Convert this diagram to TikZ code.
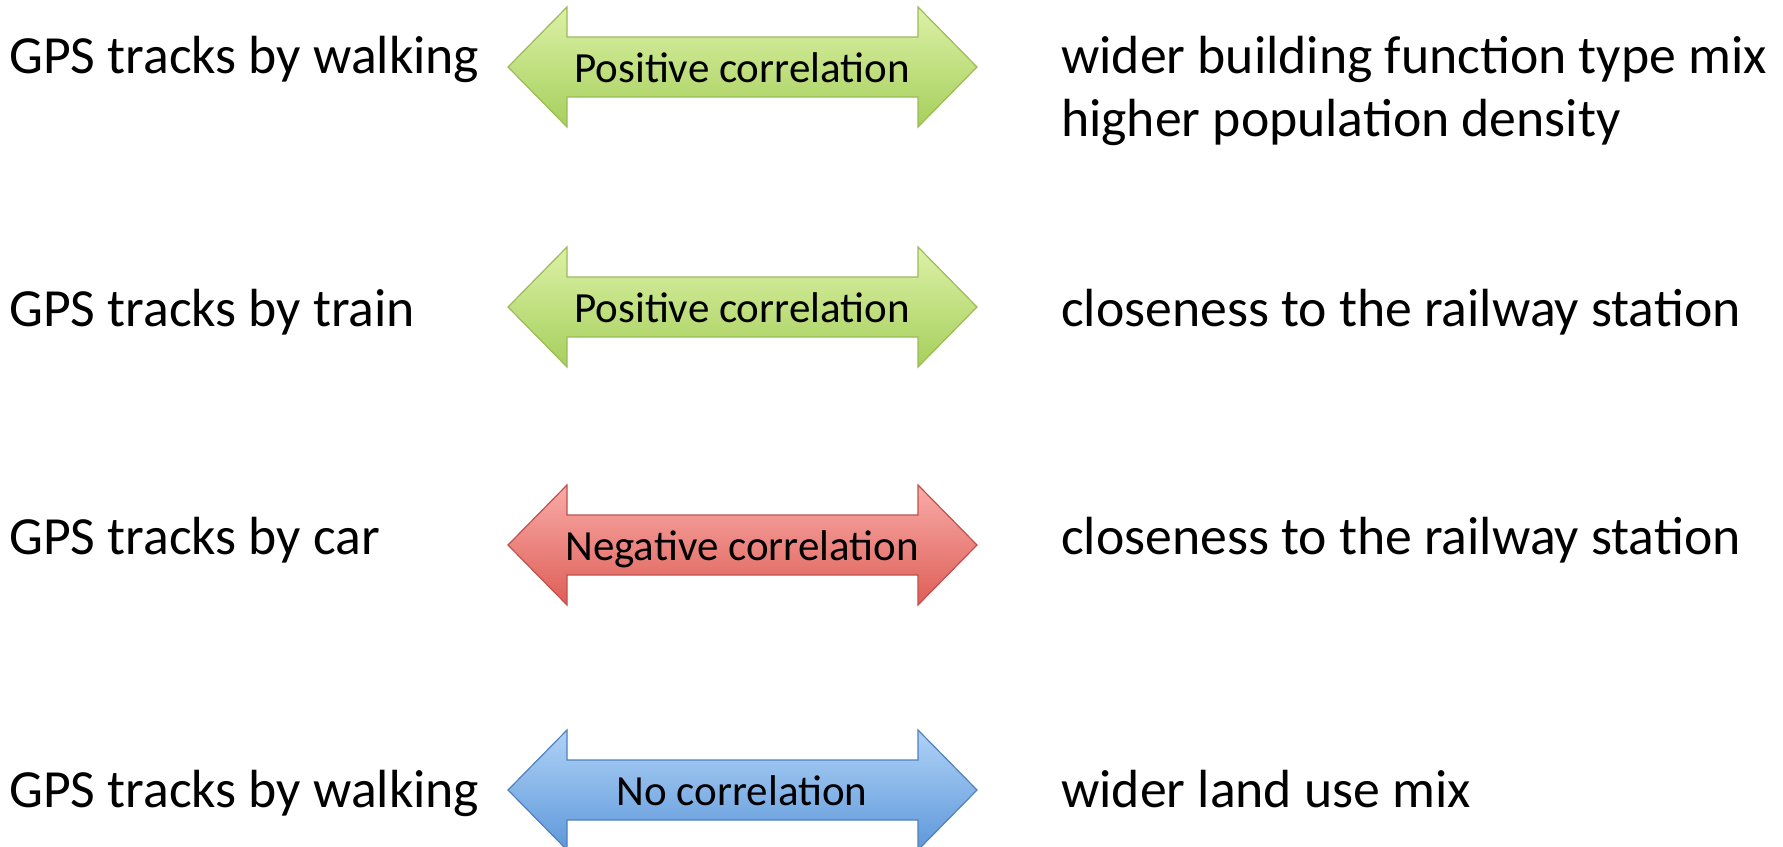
\documentclass[tikz,border=0pt]{standalone}
\usepackage{fontspec}
\setmainfont{Carlito}
\usetikzlibrary{positioning}

\definecolor{posborder}{HTML}{9BBB59}
\definecolor{postop}{HTML}{DCF1A6}
\definecolor{posbottom}{HTML}{A6CF5C}
\definecolor{negborder}{HTML}{C0504D}
\definecolor{negtop}{HTML}{F9ABA7}
\definecolor{negbottom}{HTML}{DE5E57}
\definecolor{nonborder}{HTML}{4F81BD}
\definecolor{nontop}{HTML}{AFD2F6}
\definecolor{nonbottom}{HTML}{5E98DA}

\begin{document}
\begin{tikzpicture}[x=1pt,y=-1pt,
    side/.style={anchor=base west,inner sep=0pt,font=\fontsize{53.7}{63}\selectfont},
    corr/.style={anchor=base,inner sep=0pt,font=\fontsize{43}{50}\selectfont},
    posarrow/.style={draw=posborder,line width=1.2pt,top color=postop,bottom color=posbottom},
    negarrow/.style={draw=negborder,line width=1.2pt,top color=negtop,bottom color=negbottom},
    nonarrow/.style={draw=nonborder,line width=1.2pt,top color=nontop,bottom color=nonbottom}]
\useasboundingbox (0,0) rectangle (1783,846);

% the four double arrows, centre heights 67, 307, 545, 790
\foreach \yc/\kind in {67/posarrow,307/posarrow,545/negarrow,790/nonarrow}
  \draw[\kind] (508,\yc) -- (567,\yc-60) -- (567,\yc-30) -- (918,\yc-30) -- (918,\yc-60)
    -- (977,\yc) -- (918,\yc+60) -- (918,\yc+30) -- (567,\yc+30) -- (567,\yc+60) -- cycle;

% labels on the arrows
\node[corr] (pos1) at (742,82) {Positive correlation};
\node[corr] (pos2) at (742,322) {Positive correlation};
\node[corr] (neg) at (742,560) {Negative correlation};
\node[corr] (none) at (742,805) {No correlation};

% left column
\node[side] (walk1) at (9,73) {GPS tracks by walking};
\node[side] (train) at (9,326) {GPS tracks by train};
\node[side] (car) at (9,554) {GPS tracks by car};
\node[side] (walk2) at (9,807) {GPS tracks by walking};

% right column
\node[side] (mix1) at (1061,73) {wider building function type mix};
\node[side] (dens) at (1061,136) {higher population density};
\node[side] (rail1) at (1061,326) {closeness to the railway station};
\node[side] (rail2) at (1061,554) {closeness to the railway station};
\node[side] (land) at (1061,807) {wider land use mix};
\end{tikzpicture}
\end{document}
